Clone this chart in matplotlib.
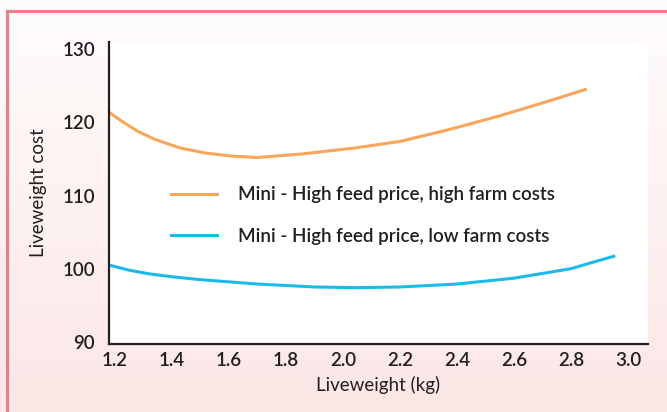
import matplotlib
matplotlib.use('Agg')
import matplotlib.pyplot as plt
import numpy as np

# 活重 vs 成本
weight_high = [1.18, 1.22, 1.28, 1.34, 1.43, 1.52, 1.61, 1.70, 1.86, 2.04, 2.20, 2.37, 2.55, 2.72, 2.85]
cost_high = [121.4, 120.3, 118.8, 117.7, 116.5, 115.8, 115.4, 115.2, 115.7, 116.5, 117.4, 119.0, 120.9, 122.9, 124.5]

weight_low = [1.18, 1.25, 1.32, 1.40, 1.50, 1.70, 1.90, 2.05, 2.20, 2.40, 2.60, 2.80, 2.87, 2.95]
cost_low = [100.5, 99.8, 99.3, 98.9, 98.5, 97.9, 97.5, 97.4, 97.5, 97.9, 98.7, 100.0, 100.8, 101.7]

label_high = 'Mini - High feed price, high farm costs'
label_low = 'Mini - High feed price, low farm costs'

x_ticks = [1.2, 1.4, 1.6, 1.8, 2.0, 2.2, 2.4, 2.6, 2.8, 3.0]
y_ticks = [90, 100, 110, 120, 130]

plt.rcParams['font.family'] = ['Lato', 'DejaVu Sans']
plt.rcParams['font.weight'] = 'semibold'
ink = '#231f20'
fs = 13.5

fig = plt.figure(figsize=(6.67, 4.12), dpi=100)

# 背景渐变 + 粉色边框
bg = fig.add_axes([0, 0, 1, 1], zorder=-10)
grad = np.linspace(0, 1, 256).reshape(-1, 1)
top_c = np.array([254, 253, 252]) / 255
bot_c = np.array([252, 230, 230]) / 255
img = top_c + (bot_c - top_c) * grad[:, :, None]
bg.imshow(img, aspect='auto', extent=[0, 1, 0, 1], origin='upper')
bg.plot([7 / 667, 7 / 667, 1], [0, 1 - 10.5 / 412, 1 - 10.5 / 412],
        color='#f17c88', lw=2.2, solid_joinstyle='miter')
bg.set_xlim(0, 1)
bg.set_ylim(0, 1)
bg.axis('off')

ax = fig.add_axes([109 / 667, 68 / 412, 539 / 667, 302 / 412])
ax.set_facecolor('white')
ax.plot(weight_high, cost_high, color='#f9a55a', lw=2.2, label=label_high)
ax.plot(weight_low, cost_low, color='#1bbbe9', lw=2.2, label=label_low)

ax.set_xlim(1.18, 3.07)
ax.set_ylim(89.7, 131)
ax.set_xticks(x_ticks)
ax.set_xticklabels(['%.1f' % v for v in x_ticks])
ax.set_yticks(y_ticks)
ax.tick_params(length=0, labelsize=fs, colors=ink)
ax.tick_params(axis='y', pad=10)
ax.tick_params(axis='x', pad=6)
for s in ['top', 'right']:
    ax.spines[s].set_visible(False)
for s in ['left', 'bottom']:
    ax.spines[s].set_color(ink)
    ax.spines[s].set_linewidth(1.6)

ax.set_xlabel('Liveweight (kg)', fontsize=fs, color=ink, labelpad=5)
ax.set_ylabel('Liveweight cost', fontsize=fs, color=ink, labelpad=11)

fig.legend(loc='center left', bbox_to_anchor=(171 / 667, 1 - 215.5 / 412),
           frameon=False, fontsize=fs, handlelength=2.45, handletextpad=1.1,
           labelspacing=1.3, borderpad=0, borderaxespad=0, labelcolor=ink)

plt.savefig('out.png', dpi=100)
plt.close()
